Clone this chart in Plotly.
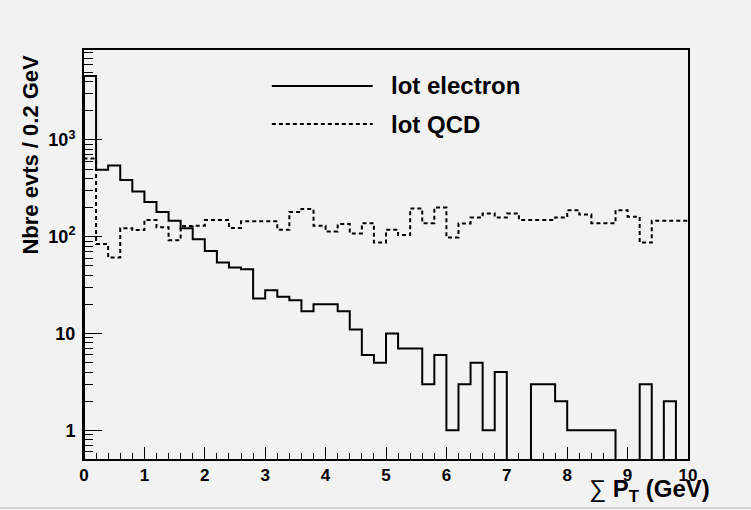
import numpy as np
import plotly.graph_objects as go

# Histogram binning: 50 bins of 0.2 GeV from 0 to 10
bin_width = 0.2
bin_edges = np.round(np.arange(0, 10.0001, bin_width), 4)

# Bin contents (events per 0.2 GeV)
electron_counts = [4570, 490, 543, 385, 293, 228, 180, 146, 122, 94,
                   71, 54, 48, 46, 23, 28, 24, 22, 17, 20,
                   20, 17, 11, 6, 5, 10, 7, 7, 3, 6,
                   1, 3, 5, 1, 4, 0, 0, 3, 3, 2,
                   1, 1, 1, 1, 0, 0, 3, 0, 2, 0]
qcd_counts = [641, 84, 61, 122, 117, 149, 125, 92, 129, 130,
              149, 149, 123, 144, 144, 144, 118, 180, 193, 130,
              113, 135, 108, 138, 87, 118, 104, 196, 138, 200,
              98, 137, 158, 174, 158, 174, 149, 149, 149, 158,
              188, 169, 138, 138, 188, 161, 87, 146, 146, 146]

series_names = ["lot electron", "lot QCD"]
x_tick_vals = list(range(0, 11))
y_tick_vals = [1, 10, 100, 1000]
y_tick_text = ["1", "10", "10<sup>2</sup>", "10<sup>3</sup>"]

# Log axis range (decades)
y_log_range = [-0.296, 3.928]
floor_val = 10 ** (y_log_range[0] - 0.3)  # empty bins drop below the frame

BG = "#f2f2f2"
INK = "#000000"
FAMILY = "Liberation Sans, Arial, sans-serif"


def step_points(counts):
    """Outline of a histogram: rises from the bottom at x=0, steps per bin."""
    vals = [c if c > 0 else floor_val for c in counts]
    xs = [bin_edges[0]] + list(bin_edges[:-1]) + [bin_edges[-1]]
    ys = [floor_val] + vals + [vals[-1]]
    return xs, ys


fig = go.Figure()

ex, ey = step_points(electron_counts)
fig.add_trace(go.Scatter(x=ex, y=ey, mode="lines", line_shape="hv",
                         line=dict(color=INK, width=2),
                         name=series_names[0], showlegend=False))
qx, qy = step_points(qcd_counts)
fig.add_trace(go.Scatter(x=qx, y=qy, mode="lines", line_shape="hv",
                         line=dict(color=INK, width=2, dash="4px,3px"),
                         name=series_names[1], showlegend=False))

# Minor log ticks drawn on an overlaid axis
minor_vals = [m * 10 ** k for k in range(-1, 4) for m in range(2, 10)]

fig.update_layout(
    width=751, height=510,
    margin=dict(l=84, r=63, t=50, b=51),
    paper_bgcolor=BG, plot_bgcolor=BG,
    font=dict(family=FAMILY, color=INK),
    xaxis=dict(
        range=[0, 10], tickvals=x_tick_vals,
        ticks="inside", ticklen=12, tickwidth=1, tickcolor=INK,
        showline=True, linecolor=INK, linewidth=2, mirror=True,
        showgrid=False, zeroline=False,
        tickfont=dict(family=FAMILY, size=17, color=INK, weight="bold"),
        minor=dict(dtick=bin_width, ticks="inside", ticklen=6, tickwidth=1,
                   tickcolor=INK, showgrid=False),
    ),
    yaxis=dict(
        type="log", range=y_log_range,
        tickvals=y_tick_vals, ticktext=y_tick_text,
        ticks="inside", ticklen=18, tickwidth=1, tickcolor=INK,
        showline=True, linecolor=INK, linewidth=2, mirror=True,
        showgrid=False, zeroline=False, ticklabelstandoff=3,
        tickfont=dict(family=FAMILY, size=18, color=INK, weight="bold"),
    ),
    yaxis2=dict(
        type="log", range=y_log_range, overlaying="y", anchor="x", side="left",
        tickvals=minor_vals, showticklabels=False,
        ticks="inside", ticklen=9, tickwidth=1, tickcolor=INK,
        showline=False, showgrid=False, zeroline=False,
    ),
)

# Empty trace to activate the minor-tick axis
fig.add_trace(go.Scatter(x=[None], y=[None], yaxis="y2", showlegend=False,
                         hoverinfo="skip"))

# Legend: long line samples with bold labels
leg_font = dict(family=FAMILY, size=24, color=INK)
legend_rows = [(0.912, dict(color=INK, width=2)),
               (0.819, dict(color=INK, width=2, dash="4px,3px"))]
for name, (ypos, lstyle) in zip(series_names, legend_rows):
    fig.add_shape(type="line", xref="paper", yref="paper",
                  x0=0.311, x1=0.478, y0=ypos, y1=ypos, line=lstyle)
    fig.add_annotation(xref="paper", yref="paper", x=0.505, y=ypos,
                       xanchor="left", yanchor="middle", showarrow=False,
                       text=f"<b>{name}</b>", font=leg_font)

# Axis titles
fig.add_annotation(xref="paper", yref="paper", x=1.04, y=-0.035,
                   xanchor="right", yanchor="top", showarrow=False,
                   text="<span style='font-weight:normal'>∑</span> <b>P<sub>T</sub> (GeV)</b>",
                   font=dict(family=FAMILY, size=24, color=INK))
fig.add_annotation(xref="paper", yref="paper", x=-0.089, y=0.745,
                   xanchor="center", yanchor="middle", showarrow=False,
                   textangle=-90, text="<b>Nbre evts / 0.2 GeV</b>",
                   font=dict(family=FAMILY, size=22, color=INK))

# Thin rule along the bottom edge of the canvas
fig.add_shape(type="line", xref="paper", yref="paper",
              x0=-0.14, x1=1.105, y0=-0.12, y1=-0.12,
              line=dict(color="#d4d4d4", width=2))

fig.write_html("out.html")
